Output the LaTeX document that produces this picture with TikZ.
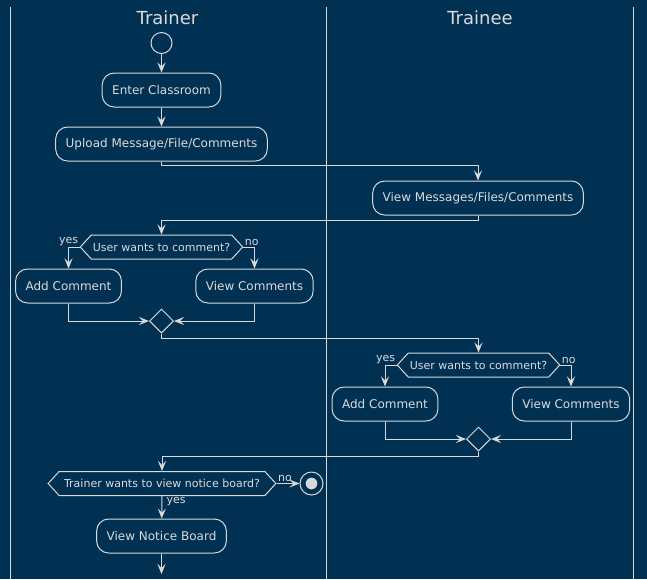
\documentclass[tikz,border=0pt]{standalone}
\usepackage{fontspec}
\setmainfont{DejaVu Sans}
\usetikzlibrary{arrows.meta,shapes.geometric,shapes.symbols}
\definecolor{bgblue}{HTML}{003152}
\definecolor{linec}{HTML}{D9D9D9}
\definecolor{textc}{HTML}{DADADA}
\tikzset{
  act/.style={draw=linec, text=textc, rounded corners=12pt, minimum height=34pt, inner xsep=10pt, font=\fontsize{12}{14}\selectfont},
  decide/.style={signal, signal to=west and east, signal pointer angle=95, draw=linec, text=textc, minimum height=24pt, inner xsep=1.5pt, inner ysep=2pt, font=\fontsize{11}{13}\selectfont},
  merge/.style={diamond, draw=linec, minimum width=24pt, minimum height=24pt, inner sep=0pt},
  flow/.style={draw=linec, -{Stealth[length=10pt,width=8pt,inset=4pt]}},
  lbl/.style={text=textc, font=\fontsize{11}{13}\selectfont, inner sep=1pt},
  lane/.style={draw=linec},
  title/.style={text=textc, font=\fontsize{18}{20}\selectfont}
}
\begin{document}
\begin{tikzpicture}[x=1pt,y=-1pt,line width=1pt]
    % background
    \fill[bgblue] (0,0) rectangle (647,579);
    \useasboundingbox (0,0) rectangle (647,579);
    % swimlanes
    \draw[lane] (10,7) -- (10,579);
    \draw[lane] (326,7) -- (326,579);
    \draw[lane] (633,7) -- (633,579);
    \node[title] (trainer) at (167.5,17.5) {Trainer};
    \node[title] (trainee) at (480,17.5) {Trainee};
    % trainer starts
    \node[draw=linec, circle, minimum size=21pt, inner sep=0pt] (start) at (161.5,43) {};
    \node[act] (enter) at (161.5,90) {Enter Classroom};
    \node[act] (upload) at (161.5,144) {Upload Message/File/Comments};
    % trainee views
    \node[act] (viewmsg) at (478,198) {View Messages/Files/Comments};
    % trainer comments
    \node[decide] (decA) at (161.5,247) {User wants to comment?};
    \node[act] (addA) at (68.5,286) {Add Comment};
    \node[act] (viewA) at (254.5,286) {View Comments};
    \node[merge] (mergeA) at (161.5,321) {};
    \node[lbl, anchor=south east] (yesA) at (decA.west) {yes};
    \node[lbl, anchor=south west] (noA) at (decA.east) {no};
    % trainee comments
    \node[decide] (decB) at (478.5,365) {User wants to comment?};
    \node[act] (addB) at (385,404) {Add Comment};
    \node[act] (viewB) at (571,404) {View Comments};
    \node[merge] (mergeB) at (478.5,439) {};
    \node[lbl, anchor=south east] (yesB) at (decB.west) {yes};
    \node[lbl, anchor=south west] (noB) at (decB.east) {no};
    % notice board
    \node[decide, inner xsep=5pt] (decC) at (162,483.5) {Trainer wants to view notice board?};
    \node[draw=linec, circle, minimum size=23pt, inner sep=0pt,
      path picture={\fill[linec] (path picture bounding box.center) circle (5.8pt);}] (stop) at (311.5,483.5) {};
    \node[lbl, anchor=south west] (noC) at (decC.east) {no};
    \node[lbl, anchor=north west] (yesC) at ([xshift=3pt]decC.south) {yes};
    \node[act] (notice) at (161.5,536) {View Notice Board};
    \coordinate (tail) at (161.5,574);
    % connectors
    \draw[flow] (start) -- (enter);
    \draw[flow] (enter) -- (upload);
    \draw[flow] (upload.south) -- ++(0,4) -| (viewmsg.north);
    \draw[flow] (viewmsg.south) -- ++(0,5) -| (decA.north);
    \draw[flow] (decA.west) -| (addA.north);
    \draw[flow] (decA.east) -| (viewA.north);
    \draw[flow] (addA.south) |- (mergeA.west);
    \draw[flow] (viewA.south) |- (mergeA.east);
    \draw[flow] (mergeA.south) -- ++(0,5) -| (decB.north);
    \draw[flow] (decB.west) -| (addB.north);
    \draw[flow] (decB.east) -| (viewB.north);
    \draw[flow] (addB.south) |- (mergeB.west);
    \draw[flow] (viewB.south) |- (mergeB.east);
    \draw[flow] (mergeB.south) -- ++(0,5) -| (decC.north);
    \draw[flow] (decC.east) -- (stop);
    \draw[flow] (decC.south) -- (notice);
    \draw[flow] (notice) -- (tail);
\end{tikzpicture}
\end{document}
